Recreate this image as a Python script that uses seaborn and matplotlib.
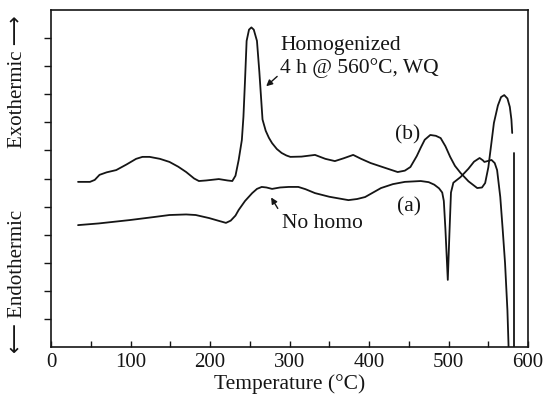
import numpy as np
import pandas as pd
import matplotlib
matplotlib.use("Agg")
import matplotlib.pyplot as plt
import seaborn as sns

# Curve (a): no homogenization
temp_a = [34, 60, 99, 130, 149, 170, 182, 199, 210, 220, 226, 232, 236, 244, 253, 259, 265, 271, 278,
          288, 299, 311, 320, 332, 350, 374, 385, 395, 405, 415, 430, 445, 465, 475, 482, 488, 492,
          494, 496, 499, 501, 503, 506, 515, 525, 532, 539, 543, 545, 549, 554, 558, 561, 565, 568,
          571, 574, 576]
dsc_a = [4.34, 4.40, 4.52, 4.63, 4.70, 4.72, 4.70, 4.59, 4.50, 4.42, 4.50, 4.68, 4.88, 5.20, 5.48, 5.63,
         5.70, 5.68, 5.63, 5.68, 5.70, 5.70, 5.62, 5.48, 5.35, 5.23, 5.27, 5.34, 5.50, 5.66, 5.80, 5.88,
         5.91, 5.87, 5.78, 5.65, 5.50, 5.20, 4.20, 2.39, 4.00, 5.50, 5.85, 6.05, 6.35, 6.60, 6.73, 6.65,
         6.59, 6.62, 6.66, 6.55, 6.30, 5.34, 4.20, 2.99, 1.30, -0.5]

# Curve (b): homogenized 4 h @ 560C, WQ
temp_b = [34, 49, 55, 61, 70, 82, 95, 107, 115, 124, 137, 149, 160, 170, 180, 186, 195, 211, 222, 228,
          232, 236, 240, 242, 244, 246, 249, 252, 255, 259, 262, 266, 268, 270, 274, 278, 284, 290, 296,
          301, 315, 332, 345, 357, 368, 380, 390, 402, 420, 436, 445, 452, 460, 465, 470, 477, 484, 490,
          496, 502, 508, 515, 525, 536, 542, 546, 550, 554, 557, 562, 566, 570, 574, 577, 579, 580]
dsc_b = [5.88, 5.88, 5.95, 6.13, 6.22, 6.30, 6.50, 6.70, 6.77, 6.77, 6.70, 6.59, 6.42, 6.23, 6.00, 5.91,
         5.93, 5.98, 5.93, 5.91, 6.10, 6.66, 7.37, 8.20, 9.50, 10.90, 11.30, 11.38, 11.30, 10.90, 9.80,
         8.10, 7.90, 7.70, 7.45, 7.26, 7.05, 6.91, 6.82, 6.77, 6.78, 6.84, 6.70, 6.62, 6.72, 6.84, 6.70,
         6.55, 6.38, 6.23, 6.28, 6.41, 6.80, 7.10, 7.38, 7.55, 7.52, 7.44, 7.15, 6.77, 6.45, 6.20, 5.90,
         5.66, 5.68, 5.84, 6.40, 7.30, 7.98, 8.60, 8.90, 8.97, 8.85, 8.55, 8.10, 7.62]
temp_b_tail = [582, 582]
dsc_b_tail = [6.9, -0.5]

x_ticks = [0, 100, 200, 300, 400, 500, 600]

sns.set_style("ticks")
plt.rcParams['font.family'] = ['Liberation Serif', 'DejaVu Sans']

fig = plt.figure(figsize=(5.45, 4.05), dpi=100)
ax = fig.add_axes([0.0936, 0.1432, 0.8754, 0.8321])

ink = "#151515"
df_a = pd.DataFrame({"T": temp_a, "v": dsc_a})
df_b = pd.DataFrame({"T": temp_b, "v": dsc_b})
df_bt = pd.DataFrame({"T": temp_b_tail, "v": dsc_b_tail})
for d in (df_a, df_b, df_bt):
    sns.lineplot(data=d, x="T", y="v", ax=ax, sort=False, estimator=None, color=ink, lw=1.3)

ax.set_xlim(0, 600)
ax.set_ylim(0, 12)
ax.set_xticks(x_ticks)
ax.set_xticklabels([str(t) for t in x_ticks])
ax.set_xticks([50, 150, 250, 350, 450, 550], minor=True)
ax.set_yticks(range(1, 12))
ax.set_yticklabels([])
ax.tick_params(axis='x', which='both', direction='in', length=4, width=1, labelsize=15, pad=4, colors=ink)
ax.tick_params(axis='y', which='both', direction='out', length=5, width=1, colors=ink)
for s in ax.spines.values():
    s.set_visible(True)
    s.set_linewidth(1.2)
    s.set_color(ink)
ax.set_xlabel("Temperature (°C)", fontsize=15.5, color=ink, labelpad=2)
ax.set_ylabel("")

ax.text(288, 10.33, "Homogenized\n4 h @ 560°C, WQ", fontsize=15.5, color=ink, va="center", ha="left",
        linespacing=1.2)
ax.annotate("", xy=(268, 9.22), xytext=(287, 9.7),
            arrowprops=dict(arrowstyle="-|>", color=ink, lw=1, mutation_scale=9))
ax.text(449, 7.55, "(b)", fontsize=15.5, color=ink, ha="center", va="center")
ax.text(450, 5.0, "(a)", fontsize=15.5, color=ink, ha="center", va="center")
ax.text(290, 4.40, "No homo", fontsize=15.5, color=ink, ha="left", va="center")
ax.annotate("", xy=(275, 5.41), xytext=(287, 4.85),
            arrowprops=dict(arrowstyle="-|>", color=ink, lw=1, mutation_scale=9))

fig.text(18 / 545, 1 - 82 / 405, "Exothermic ⟶", rotation=90, fontsize=15, color=ink,
         ha="center", va="center")
fig.text(18 / 545, 1 - 281 / 405, "⟵ Endothermic", rotation=90, fontsize=15, color=ink,
         ha="center", va="center")

fig.savefig("out.png", dpi=100, facecolor="white")
